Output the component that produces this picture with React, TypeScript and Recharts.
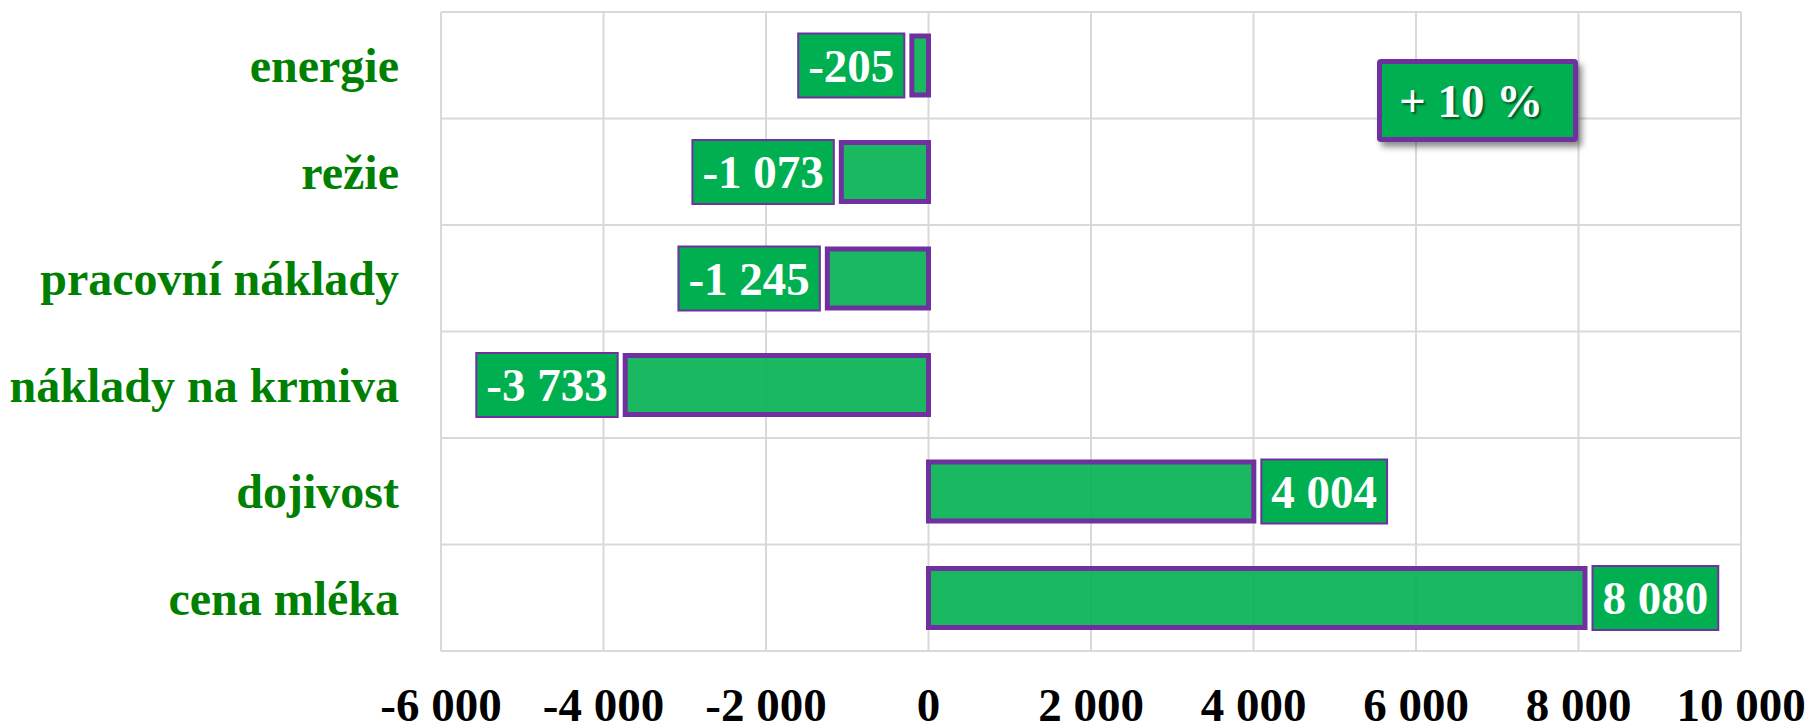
import React from 'react';
import { BarChart, Bar, XAxis, YAxis, CartesianGrid, LabelList } from 'recharts';

const categories = ['energie', 'režie', 'pracovní náklady', 'náklady na krmiva', 'dojivost', 'cena mléka'];
const values = [-205, -1073, -1245, -3733, 4004, 8080];
const xTicks = [-6000, -4000, -2000, 0, 2000, 4000, 6000, 8000, 10000];
const changeLabel = '+ 10 %';

const data = categories.map((name, i) => ({ name, value: values[i] }));

const SERIF = '"Liberation Serif", "Times New Roman", serif';
const FONT_SIZE = 47;
const GREEN = '#00B050';
const PURPLE = '#7030A0';
const BAR_SIZE = 59;
const BAR_STROKE = 5;

// czech style thousands separator: "-1 073"
const fmt = (v: number) => {
  const s = Math.abs(Math.round(v)).toString().replace(/\B(?=(\d{3})+(?!\d))/g, ' ');
  return (v < 0 ? '-' : '') + s;
};

// rough bold Times width, good enough for the label boxes
const textWidth = (s: string) =>
  s.split('').reduce((w, c) => w + (c === ' ' ? 0.25 : c === '-' ? 0.333 : 0.5), 0) * FONT_SIZE;

const ValueBox = (props: any) => {
  const { x, y, width, height, value } = props;
  const left = Math.min(x, x + width);
  const right = Math.max(x, x + width);
  const label = fmt(value);
  const boxW = textWidth(label) + 20;
  const boxH = height + BAR_STROKE;
  const gap = BAR_STROKE / 2 + 5;
  const bx = value < 0 ? left - gap - boxW : right + gap;
  const by = y - BAR_STROKE / 2;
  return (
    <g>
      <rect x={bx} y={by} width={boxW} height={boxH} fill={GREEN} stroke={PURPLE} strokeWidth={2} />
      <text
        x={bx + boxW / 2}
        y={by + boxH / 2}
        dy="0.35em"
        textAnchor="middle"
        fill="#fff"
        fontFamily={SERIF}
        fontWeight="bold"
        fontSize={FONT_SIZE}
        style={{ whiteSpace: 'pre' }}
      >
        {label}
      </text>
    </g>
  );
};

const bandLines = ({ offset }: any) => {
  const n = categories.length;
  return Array.from({ length: n + 1 }, (_, i) => offset.top + (i * offset.height) / n);
};

export default function App() {
  return (
    <div style={{ position: 'fixed', left: 0, top: 0, width: 1812, height: 726, background: '#fff' }}>
      <BarChart
        width={1812}
        height={726}
        data={data}
        layout="vertical"
        margin={{ top: 12, right: 71, bottom: 0, left: 0 }}
      >
        <CartesianGrid
          stroke="#D9D9D9"
          strokeWidth={2}
          horizontalCoordinatesGenerator={bandLines}
        />
        <XAxis
          type="number"
          domain={[-6000, 10000]}
          ticks={xTicks}
          tickFormatter={fmt}
          axisLine={false}
          tickLine={false}
          tickSize={0}
          tickMargin={37}
          height={75}
          interval={0}
          tick={{ fill: '#000', fontFamily: SERIF, fontWeight: 'bold', fontSize: FONT_SIZE }}
        />
        <YAxis
          type="category"
          dataKey="name"
          width={441}
          axisLine={false}
          tickLine={false}
          tickSize={0}
          tickMargin={42}
          interval={0}
          tick={{ fill: '#008000', fontFamily: SERIF, fontWeight: 'bold', fontSize: 48 }}
        />
        <Bar
          dataKey="value"
          barSize={BAR_SIZE}
          fill={GREEN}
          fillOpacity={0.9}
          stroke={PURPLE}
          strokeWidth={BAR_STROKE}
          isAnimationActive={false}
        >
          <LabelList dataKey="value" content={ValueBox} />
        </Bar>
      </BarChart>
      <div
        style={{
          position: 'absolute',
          left: 1377,
          top: 59,
          width: 201,
          height: 83,
          boxSizing: 'border-box',
          border: `5px solid ${PURPLE}`,
          borderRadius: 4,
          background: GREEN,
          boxShadow: '4px 5px 6px rgba(0,0,0,0.45)',
          display: 'flex',
          alignItems: 'center',
          paddingLeft: 17,
          color: '#fff',
          fontFamily: SERIF,
          fontWeight: 'bold',
          fontSize: FONT_SIZE,
          whiteSpace: 'pre',
          textShadow: '2px 2px 2px rgba(0,0,0,0.5)',
        }}
      >
        {changeLabel}
      </div>
    </div>
  );
}
